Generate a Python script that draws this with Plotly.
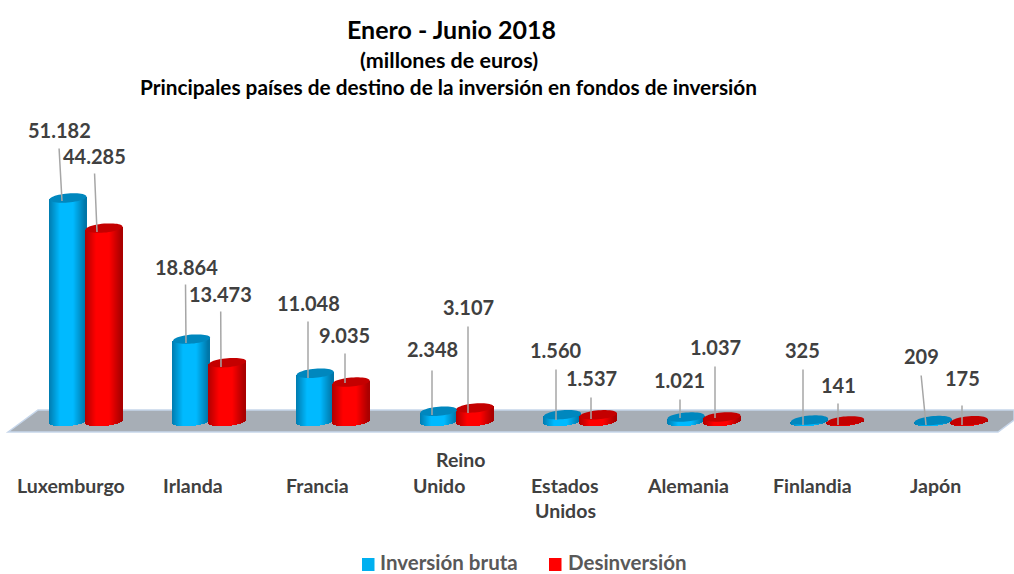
import math
import plotly.graph_objects as go

categories = ["Luxemburgo", "Irlanda", "Francia", "Reino Unido", "Estados Unidos", "Alemania", "Finlandia", "Japón"]
inversion_bruta = [51182, 18864, 11048, 2348, 1560, 1021, 325, 209]
desinversion = [44285, 13473, 9035, 3107, 1537, 1037, 141, 175]
series_names = ["Inversión bruta", "Desinversión"]

W, H = 1014, 574
BASE_PX, PX_PER_UNIT = 421.5, 0.004367
CAT0_PX, CAT_STEP_PX = 86.0, 123.6
SERIES_OFF_PX, HALF_W, SEMI_MINOR, TILT = 18.0, 18.5, 4.5, 1.5
FONT = "Lato"
DARK = "#404040"


def px(x, y):
    return x / W, 1 - y / H


def mix(c1, c2, f):
    return "rgb(" + ",".join(str(round(a + (b - a) * f)) for a, b in zip(c1, c2)) + ")"


def shade(edge, mid, t):
    u = abs(t - (-0.05))
    f = max(0.0, min(1.0, (u - 0.35) / 0.65))
    return mix(mid, edge, f)


def strips(values, side, edge, mid, name):
    xs, hs, bs, ws, cs = [], [], [], [], []
    n = int(2 * HALF_W)
    for i, v in enumerate(values):
        for j in range(n):
            t = -1 + (2 * j + 1) / n
            xs.append(i + (side * SERIES_OFF_PX + t * HALF_W) / CAT_STEP_PX)
            bottom = (TILT * t - SEMI_MINOR * math.sqrt(1 - t * t)) / PX_PER_UNIT
            top = v + TILT * t / PX_PER_UNIT
            bs.append(bottom)
            hs.append(top - bottom)
            ws.append(1.25 / CAT_STEP_PX)
            cs.append(shade(edge, mid, t))
    return go.Bar(x=xs, y=hs, base=bs, width=ws, marker=dict(color=cs, line=dict(width=0)),
                  showlegend=False, hoverinfo="skip", name=name)


def cap(i, v, side, color):
    pts = []
    for k in range(48):
        a = 2 * math.pi * k / 48
        t, s = math.cos(a), math.sin(a)
        pts.append((HALF_W * t, TILT * t + SEMI_MINOR * s))
    path = "M" + " L".join(f"{x:.2f},{y:.2f}" for x, y in pts) + " Z"
    return dict(type="path", xref="x", yref="y", xsizemode="pixel", ysizemode="pixel",
                xanchor=i + side * SERIES_OFF_PX / CAT_STEP_PX, yanchor=v, path=path,
                fillcolor=color, line=dict(width=0), layer="above")


BLUE_EDGE, BLUE_MID = (0, 118, 168), (0, 186, 255)
RED_EDGE, RED_MID = (170, 0, 0), (255, 0, 0)

fig = go.Figure()
fig.add_trace(strips(inversion_bruta, -1, BLUE_EDGE, BLUE_MID, series_names[0]))
fig.add_trace(strips(desinversion, 1, RED_EDGE, RED_MID, series_names[1]))

# floor
fx = lambda x: x / W
fy = lambda y: 1 - y / H
floor = (f"M{fx(8)},{fy(432)} L{fx(38)},{fy(410)} L{fx(1014)},{fy(410)} "
         f"L{fx(1014)},{fy(420)} L{fx(998)},{fy(432)} Z")
shapes = [dict(type="path", xref="paper", yref="paper", path=floor, fillcolor="#A7AEB6",
               line=dict(color="#C6D6EA", width=1.5), layer="below")]
for i, v in enumerate(inversion_bruta):
    shapes.append(cap(i, v, -1, "#0087BE"))
for i, v in enumerate(desinversion):
    shapes.append(cap(i, v, 1, "#C40000"))

# legend swatches
for x0, color in [(362, "#00B0F0"), (549, "#FF0000")]:
    shapes.append(dict(type="rect", xref="paper", yref="paper", x0=fx(x0), x1=fx(x0 + 12.5),
                       y0=fy(571), y1=fy(558), fillcolor=color, line=dict(width=0)))

# data labels: text centre, leader top, leader bottom (page pixels)
labels_text = ["51.182", "44.285", "18.864", "13.473", "11.048", "9.035", "2.348", "3.107",
               "1.560", "1.537", "1.021", "1.037", "325", "141", "209", "175"]
label_pos = [(59, 130), (94, 156), (186, 267), (220, 294), (308, 303), (344, 335), (432, 349), (468, 307),
             (556, 350), (591, 378), (679, 380), (715, 347), (802, 350), (838, 385), (921, 356), (962, 378)]
leader_top = [(59, 147), (94.5, 172), (185.5, 283), (220.7, 310), (308, 320), (345, 352), (432, 369), (468, 325),
              (556, 368), (591, 396), (680, 398), (715, 365), (803, 368), (838, 402), (921, 374), (962, 404)]
leader_bot = [(62, 201), (97, 232), (186, 343), (221, 367), (308, 378), (345, 383), (432, 415), (468, 413),
              (556, 420), (591, 419), (680, 418), (715, 418), (803, 425), (838, 425), (926, 425), (962, 425)]

ann = []
for txt, c, top, bot in zip(labels_text, label_pos, leader_top, leader_bot):
    bx, by = px(*bot)
    ann.append(dict(xref="paper", yref="paper", x=bx, y=by, text="", showarrow=True, arrowhead=0,
                    arrowwidth=1.5, arrowcolor="#A6A6A6", standoff=0, startstandoff=0,
                    ax=top[0] - bot[0], ay=top[1] - bot[1], axref="pixel", ayref="pixel"))
    cx, cy = px(*c)
    ann.append(dict(xref="paper", yref="paper", x=cx, y=cy, text=f"<b>{txt}</b>", showarrow=False,
                    font=dict(family=FONT, size=20, color=DARK), xanchor="center", yanchor="middle"))

# category labels
cat_lines = [("Luxemburgo", 71, 485), ("Irlanda", 193, 485), ("Francia", 317, 485), ("Reino", 460, 459),
             ("Unido", 439, 485), ("Estados", 565, 485), ("Unidos", 565, 510), ("Alemania", 688, 485),
             ("Finlandia", 812, 485), ("Japón", 935, 485)]
for txt, x, y in cat_lines:
    cx, cy = px(x, y)
    ann.append(dict(xref="paper", yref="paper", x=cx, y=cy, text=f"<b>{txt}</b>", showarrow=False,
                    font=dict(family=FONT, size=19.5, color=DARK), xanchor="center", yanchor="middle"))

# legend text
for txt, x in [(series_names[0], 378), (series_names[1], 565.5)]:
    cx, cy = px(x, 561.5)
    ann.append(dict(xref="paper", yref="paper", x=cx, y=cy, text=f"<b>{txt}</b>", showarrow=False,
                    font=dict(family=FONT, size=20.5, color="#595959"), xanchor="left", yanchor="middle"))

# titles
for txt, x, y, size in [("Enero - Junio 2018", 451, 29, 25), ("(millones de euros)", 449, 60, 21.5),
                        ("Principales países de destino de la inversión en fondos de inversión", 448.5, 87, 20.8)]:
    cx, cy = px(x, y)
    ann.append(dict(xref="paper", yref="paper", x=cx, y=cy, text=f"<b>{txt}</b>", showarrow=False,
                    font=dict(family=FONT, size=size, color="#000000"), xanchor="center", yanchor="middle"))

fig.update_layout(
    width=W, height=H, margin=dict(l=0, r=0, t=0, b=0), paper_bgcolor="white", plot_bgcolor="rgba(0,0,0,0)",
    barmode="overlay", bargap=0, hovermode=False, showlegend=False,
    xaxis=dict(visible=False, range=[-CAT0_PX / CAT_STEP_PX, (W - CAT0_PX) / CAT_STEP_PX], fixedrange=True),
    yaxis=dict(visible=False, range=[-(H - BASE_PX) / PX_PER_UNIT, BASE_PX / PX_PER_UNIT], fixedrange=True),
    shapes=shapes, annotations=ann,
)
fig.write_html("out.html", post_script="document.body.style.margin='0';", config={"displayModeBar": False})
